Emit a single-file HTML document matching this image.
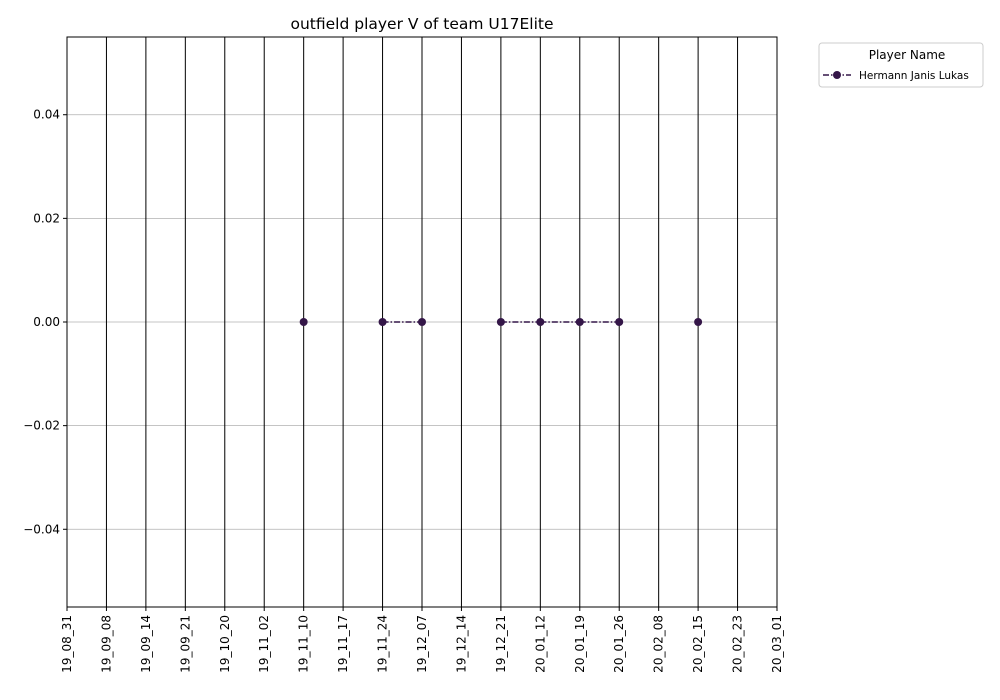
<!DOCTYPE html>
<html><head><meta charset="utf-8"><style>body{margin:0;background:#fff}svg{display:block;font-family:"DejaVu Sans","Liberation Sans",sans-serif}</style></head>
<body>
<svg id="c" width="1000" height="700" xmlns="http://www.w3.org/2000/svg">
<rect width="1000" height="700" fill="#fff"/>
<text x="422" y="29" font-size="15.5" text-anchor="middle">outfield player V of team U17Elite</text>
<g id="grid"></g><g id="marks"></g>
<rect x="67" y="37" width="710" height="570" fill="none" stroke="#000" stroke-width="1"/>
<g>
<rect x="819" y="43" width="164" height="44" rx="3" fill="#fff" stroke="#ccc"/>
<text x="907" y="59" font-size="12" text-anchor="middle">Player Name</text>
<line x1="823" y1="75" x2="851" y2="75" stroke="#341648" stroke-width="1.5" stroke-dasharray="6,2,1.5,2"/>
<circle cx="837" cy="75" r="4" fill="#341648"/>
<text x="859" y="79" font-size="10.5">Hermann Janis Lukas</text>
</g>
</svg>
<script>
const categories=["19_08_31","19_09_08","19_09_14","19_09_21","19_10_20","19_11_02","19_11_10","19_11_17","19_11_24","19_12_07","19_12_14","19_12_21","20_01_12","20_01_19","20_01_26","20_02_08","20_02_15","20_02_23","20_03_01"];
const values=[null,null,null,null,null,null,0,null,0,0,null,0,0,0,0,null,0,null,null];
const yTicks=[-0.04,-0.02,0,0.02,0.04];
const yTickLabels=["\u22120.04","\u22120.02","0.00","0.02","0.04"];
const NS="http://www.w3.org/2000/svg";
const L=67,R=777,T=37,B=607,yMin=-0.055,yMax=0.055;
function xs(i){return L+i*(R-L)/(categories.length-1);}
function ys(v){return B-(v-yMin)/(yMax-yMin)*(B-T);}
function mk(t,a,p){const e=document.createElementNS(NS,t);for(const k in a)e.setAttribute(k,a[k]);p.appendChild(e);return e;}
const g=document.getElementById('grid'),m=document.getElementById('marks');
yTicks.forEach((v,i)=>{const y=ys(v);
const gl=mk('line',{x1:L,x2:R,y1:y,y2:y,stroke:'#b0b0b0','stroke-width':0.8},g);


mk('line',{x1:L-4,x2:L,y1:y,y2:y,stroke:'#000'},g);
const t=mk('text',{x:L-7,y:y+4,'font-size':12,'text-anchor':'end'},g);t.textContent=yTickLabels[i];

});
categories.forEach((c,i)=>{const x=xs(i);
const vl=mk('line',{x1:x,x2:x,y1:T,y2:B,stroke:'#000','stroke-width':1},g);


mk('line',{x1:x,x2:x,y1:B,y2:B+4,stroke:'#000'},g);
const t=mk('text',{x:0,y:0,'font-size':12,'text-anchor':'end',transform:`translate(${x+4},${B+8}) rotate(-90)`},g);t.textContent=c;

});
for(let i=0;i<values.length-1;i++){if(values[i]!==null&&values[i+1]!==null){
const s=mk('line',{x1:xs(i),y1:ys(values[i]),x2:xs(i+1),y2:ys(values[i+1]),stroke:'#341648','stroke-width':1.5,'stroke-dasharray':'6,2,1.5,2'},m);

}}
values.forEach((v,i)=>{if(v===null)return;
const c=mk('circle',{cx:xs(i),cy:ys(v),r:4,fill:'#341648'},m);

});
</script>
</body></html>
